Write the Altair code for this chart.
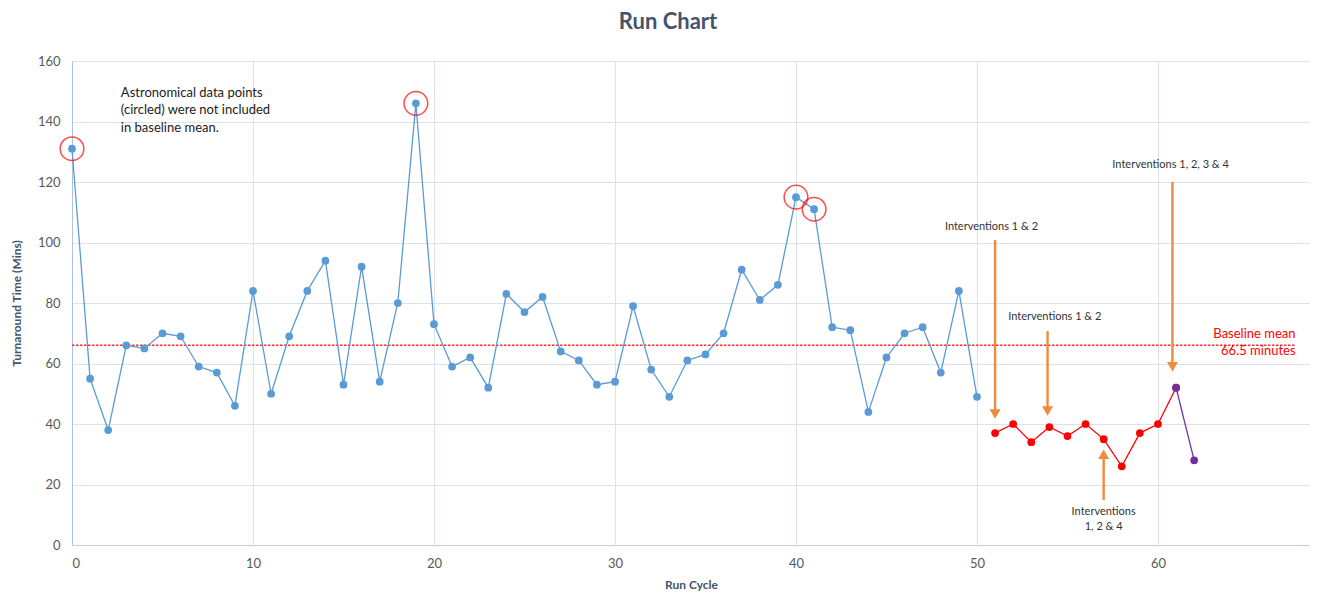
import altair as alt
import pandas as pd

# ---- data ----
baseline_cycles = list(range(0, 51))
baseline_values = [131, 55, 38, 66, 65, 70, 69, 59, 57, 46,
                   84, 50, 69, 84, 94, 53, 92, 54, 80, 146,
                   73, 59, 62, 52, 83, 77, 82, 64, 61, 53,
                   54, 79, 58, 49, 61, 63, 70, 91, 81, 86,
                   115, 111, 72, 71, 44, 62, 70, 72, 57, 84,
                   49]
interv_cycles = list(range(51, 62))
interv_values = [37, 40, 34, 39, 36, 40, 35, 26, 37, 40, 52]
final_cycles = [61, 62]
final_values = [52, 28]
outlier_cycles = [0, 19, 40, 41]
outlier_values = [131, 146, 115, 111]

baseline_mean = 66
mean_end = 67.6

note_lines = ["Astronomical data points", "(circled) were not included", "in baseline mean."]
note_x = [2.7, 2.7, 2.7]
note_y = [149.5, 143.7, 138.0]

ann_text = ["Interventions 1 & 2", "Interventions 1 & 2", "Interventions 1, 2, 3 & 4",
            "Interventions", "1, 2 & 4"]
ann_x = [50.8, 54.3, 60.7, 57.0, 57.0]
ann_y = [105.0, 75.3, 125.5, 10.9, 5.9]

mean_text = ["Baseline mean", "66.5 minutes"]
mean_text_x = [67.6, 67.6]
mean_text_y = [69.8, 64.2]

arrow_x = [51.0, 53.9, 60.8]
arrow_top = [100.8, 70.7, 120.0]
arrow_tip = [41.3, 42.3, 56.9]
up_arrow_x = [57.0]
up_arrow_bottom = [14.9]
up_arrow_tip = [32.0]

FONT = "Lato"
XMAX = 68.4

base_df = pd.DataFrame({"x": baseline_cycles, "y": baseline_values})
int_df = pd.DataFrame({"x": interv_cycles, "y": interv_values})
fin_df = pd.DataFrame({"x": final_cycles, "y": final_values})
out_df = pd.DataFrame({"x": outlier_cycles, "y": outlier_values})
note_df = pd.DataFrame({"x": note_x, "y": note_y, "t": note_lines})
ann_df = pd.DataFrame({"x": ann_x, "y": ann_y, "t": ann_text})
mt_df = pd.DataFrame({"x": mean_text_x, "y": mean_text_y, "t": mean_text})
arr_df = pd.DataFrame({"x": arrow_x, "top": arrow_top, "tip": arrow_tip})
arr_df["head"] = arr_df["tip"] + 2.0
up_df = pd.DataFrame({"x": up_arrow_x, "bottom": up_arrow_bottom, "tip": up_arrow_tip})
up_df["head"] = up_df["tip"] - 2.0
mean_df = pd.DataFrame({"x": [0], "x2": [mean_end], "y": [baseline_mean]})

xscale = alt.Scale(domain=[0, XMAX], nice=False, zero=False)
yscale = alt.Scale(domain=[0, 160], nice=False)

xaxis = alt.Axis(title="Run Cycle", values=[0, 10, 20, 30, 40, 50, 60], format="d",
                 ticks=False, labelPadding=12, titlePadding=9,
                 gridColor="#DDE1E8", domainColor="#C8CCD4",
                 labelColor="#595959", labelFontSize=13, labelFont=FONT,
                 titleColor="#44546A", titleFontSize=12, titleFont=FONT, titleFontWeight="bold")
yaxis = alt.Axis(title="Turnaround Time (Mins)", values=list(range(0, 161, 20)),
                 ticks=False, labelPadding=12, titlePadding=14,
                 gridColor="#DDE1E8", domainColor="#A9C4E4",
                 labelColor="#595959", labelFontSize=13, labelFont=FONT,
                 titleColor="#44546A", titleFontSize=12, titleFont=FONT, titleFontWeight="bold")

X = alt.X("x:Q", scale=xscale, axis=xaxis)
Y = alt.Y("y:Q", scale=yscale, axis=yaxis)

blue = "#5B9BD5"
red = "#FF0000"
purple = "#7030A0"
orange = "#F08A3C"

mean_rule = alt.Chart(mean_df).mark_rule(color="#F03030", strokeWidth=1.5, strokeDash=[2.5, 1.5]).encode(
    x=alt.X("x:Q", scale=xscale, axis=xaxis), x2="x2:Q", y=alt.Y("y:Q", scale=yscale, axis=yaxis))

base_line = alt.Chart(base_df).mark_line(color=blue, strokeWidth=1.3).encode(x=X, y=Y)
base_pts = alt.Chart(base_df).mark_circle(color=blue, size=60, opacity=1).encode(x=X, y=Y)
int_line = alt.Chart(int_df).mark_line(color=red, strokeWidth=1.3).encode(x=X, y=Y)
int_pts = alt.Chart(int_df).mark_circle(color=red, size=60, opacity=1).encode(x=X, y=Y)
fin_line = alt.Chart(fin_df).mark_line(color=purple, strokeWidth=1.3).encode(x=X, y=Y)
fin_pts = alt.Chart(fin_df).mark_circle(color=purple, size=60, opacity=1).encode(x=X, y=Y)
out_rings = alt.Chart(out_df).mark_point(shape="circle", filled=False, color=red,
                                         size=560, strokeWidth=1.5).encode(x=X, y=Y)

note = alt.Chart(note_df).mark_text(align="left", baseline="middle", font=FONT, fontSize=13,
                                    color="#222222").encode(x=X, y=Y, text="t:N")
ann = alt.Chart(ann_df).mark_text(align="center", baseline="middle", font=FONT, fontSize=11,
                                  color="#333333").encode(x=X, y=Y, text="t:N")
mtext = alt.Chart(mt_df).mark_text(align="right", baseline="middle", font=FONT, fontSize=13,
                                   color=red).encode(x=X, y=Y, text="t:N")

arr_shaft = alt.Chart(arr_df).mark_rule(color=orange, strokeWidth=2.4).encode(
    x=alt.X("x:Q", scale=xscale, axis=xaxis), y=alt.Y("top:Q", scale=yscale, axis=yaxis), y2="head:Q")
arr_head = alt.Chart(arr_df).mark_point(shape="triangle-down", filled=True, color=orange,
                                        size=120, opacity=1).encode(
    x=alt.X("x:Q", scale=xscale, axis=xaxis), y=alt.Y("head:Q", scale=yscale, axis=yaxis))
up_shaft = alt.Chart(up_df).mark_rule(color=orange, strokeWidth=2.4).encode(
    x=alt.X("x:Q", scale=xscale, axis=xaxis), y=alt.Y("bottom:Q", scale=yscale, axis=yaxis), y2="head:Q")
up_head = alt.Chart(up_df).mark_point(shape="triangle-up", filled=True, color=orange,
                                      size=120, opacity=1).encode(
    x=alt.X("x:Q", scale=xscale, axis=xaxis), y=alt.Y("head:Q", scale=yscale, axis=yaxis))

chart = alt.layer(
    mean_rule, base_line, int_line, fin_line, base_pts, int_pts, fin_pts, out_rings,
    arr_shaft, arr_head, up_shaft, up_head, note, ann, mtext
).properties(
    width=1238, height=484,
    title=alt.TitleParams("Run Chart", font=FONT, fontSize=22, fontWeight="bold",
                          color="#44546A", anchor="middle", dx=-23, offset=21),
    autosize=alt.AutoSizeParams(type="none"),
    padding={"left": 64, "top": 53, "right": 0, "bottom": 47},
).configure_view(stroke=None).configure(background="white")

chart.save("out.html", embed_options={"renderer": "svg", "actions": False})
